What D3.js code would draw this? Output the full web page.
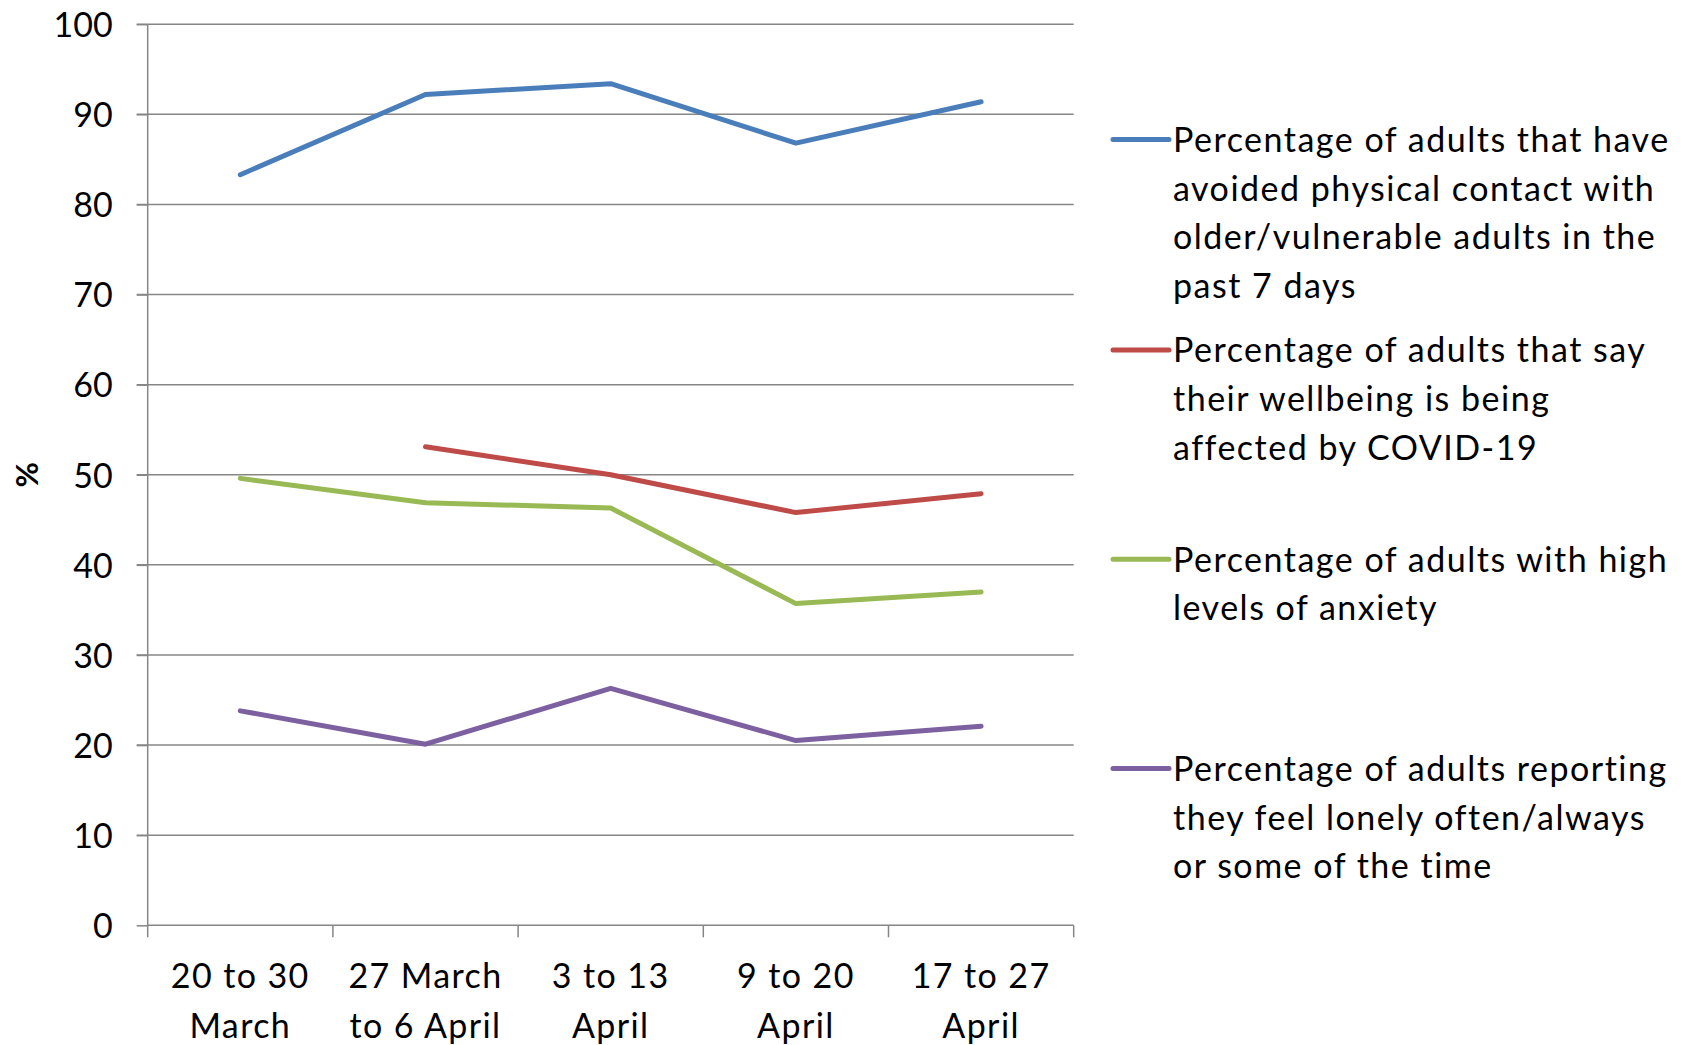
<!DOCTYPE html>
<html>
<head>
<meta charset="utf-8">
<script src="https://cdn.jsdelivr.net/npm/d3@7"></script>
<style>
  html, body { margin: 0; padding: 0; background: #fff; }
  svg { display: block; font-family: Lato, "Open Sans", sans-serif; }
</style>
</head>
<body>
<svg id="chart" width="1683" height="1045"></svg>
<script>
// Survey periods (x categories), two-line labels
const categories = ["20 to 30\nMarch", "27 March\nto 6 April", "3 to 13\nApril", "9 to 20\nApril", "17 to 27\nApril"];

// Percentages per period for each indicator (null = not collected)
const avoidedContact    = [83.3, 92.2, 93.4, 86.8, 91.4];
const wellbeingAffected = [null, 53.1, 50.0, 45.8, 47.9];
const highAnxiety       = [49.6, 46.9, 46.3, 35.7, 37.0];
const lonely            = [23.8, 20.1, 26.3, 20.5, 22.1];

const yTicks = [0, 10, 20, 30, 40, 50, 60, 70, 80, 90, 100];

const seriesNames = [
  ["Percentage of adults that have", "avoided physical contact with", "older/vulnerable adults in the", "past 7 days"],
  ["Percentage of adults that say", "their wellbeing is being", "affected by COVID-19"],
  ["Percentage of adults with high", "levels of anxiety"],
  ["Percentage of adults reporting", "they feel lonely often/always", "or some of the time"]
];
const seriesColors = ["#4A7EBB", "#BE4B48", "#98B954", "#7D60A0"];
const seriesValues = [avoidedContact, wellbeingAffected, highAnxiety, lonely];

const svg = d3.select("#chart");
const plot = { left: 147.7, right: 1073.7, top: 24.2, bottom: 925.3 };
const gridColor = "#868686";
const fontSize = 34;

const x = d3.scaleBand().domain(categories).range([plot.left, plot.right]);
const y = d3.scaleLinear().domain([0, 100]).range([plot.bottom, plot.top]);

// horizontal gridlines with short outward ticks
svg.append("g").selectAll("line")
  .data(yTicks.filter(d => d > 0))
  .join("line")
  .attr("x1", plot.left - 11).attr("x2", plot.right)
  .attr("y1", d => y(d)).attr("y2", d => y(d))
  .attr("stroke", gridColor).attr("stroke-width", 1.5);

// y axis
const yAxis = svg.append("g")
  .attr("transform", `translate(${plot.left},0)`)
  .call(d3.axisLeft(y).tickValues(yTicks).tickSize(11).tickSizeOuter(0).tickPadding(24));
yAxis.select(".domain").remove();
yAxis.selectAll(".tick line").attr("stroke", gridColor).attr("stroke-width", 1.5);
yAxis.selectAll(".tick text")
  .attr("font-size", fontSize).attr("font-family", "Lato, sans-serif").attr("fill", "#000")
  .attr("dy", "0.36em");
svg.append("line")
  .attr("x1", plot.left).attr("x2", plot.left)
  .attr("y1", plot.top).attr("y2", plot.bottom + 12)
  .attr("stroke", gridColor).attr("stroke-width", 1.5);

// x axis with ticks at band boundaries
svg.append("line")
  .attr("x1", plot.left).attr("x2", plot.right)
  .attr("y1", plot.bottom).attr("y2", plot.bottom)
  .attr("stroke", gridColor).attr("stroke-width", 1.5);
const boundaries = categories.map(c => x(c)).concat([x(categories[categories.length - 1]) + x.bandwidth()]);
svg.append("g").selectAll("line")
  .data(boundaries.slice(1))
  .join("line")
  .attr("x1", d => d).attr("x2", d => d)
  .attr("y1", plot.bottom).attr("y2", plot.bottom + 12)
  .attr("stroke", gridColor).attr("stroke-width", 1.5);

const xLabels = svg.append("g").selectAll("text")
  .data(categories)
  .join("text")
  .attr("x", d => x(d) + x.bandwidth() / 2)
  .attr("y", plot.bottom + 63)
  .attr("text-anchor", "middle")
  .attr("font-size", fontSize)
  .attr("letter-spacing", 1.4)
  .attr("fill", "#000");
xLabels.selectAll("tspan")
  .data(d => d.split("\n"))
  .join("tspan")
  .attr("x", function () { return d3.select(this.parentNode).attr("x"); })
  .attr("dy", (d, i) => i === 0 ? 0 : 50)
  .text(d => d);

// y axis title
svg.append("text")
  .attr("transform", `translate(38,${(plot.top + plot.bottom) / 2}) rotate(-90)`)
  .attr("text-anchor", "middle")
  .attr("font-size", 31)
  .attr("font-weight", "bold")
  .attr("fill", "#000")
  .text("%");

// series lines
const line = d3.line()
  .defined(d => d.v !== null)
  .x(d => x(d.c) + x.bandwidth() / 2)
  .y(d => y(d.v));

svg.append("g").selectAll("path")
  .data(seriesValues.map((vals, i) => ({ i, pts: vals.map((v, j) => ({ c: categories[j], v })) })))
  .join("path")
  .attr("d", d => line(d.pts))
  .attr("fill", "none")
  .attr("stroke", d => seriesColors[d.i])
  .attr("stroke-width", 5)
  .attr("stroke-linecap", "round")
  .attr("stroke-linejoin", "round");

// legend
const legendTop = [139.5, 349.9, 559.2, 768.5];
const legendLineHeight = 48.6;
const legend = svg.append("g").selectAll("g")
  .data(seriesNames)
  .join("g")
  .attr("transform", (d, i) => `translate(0,${legendTop[i]})`);
legend.append("line")
  .attr("x1", 1113).attr("x2", 1169)
  .attr("y1", 0).attr("y2", 0)
  .attr("stroke", (d, i) => seriesColors[i])
  .attr("stroke-width", 5)
  .attr("stroke-linecap", "round");
legend.append("text")
  .attr("font-size", fontSize)
  .attr("letter-spacing", 1.5)
  .attr("fill", "#000")
  .selectAll("tspan")
  .data(d => d)
  .join("tspan")
  .attr("x", 1173)
  .attr("y", (d, i) => 12.5 + i * legendLineHeight)
  .text(d => d);
</script>
</body>
</html>
